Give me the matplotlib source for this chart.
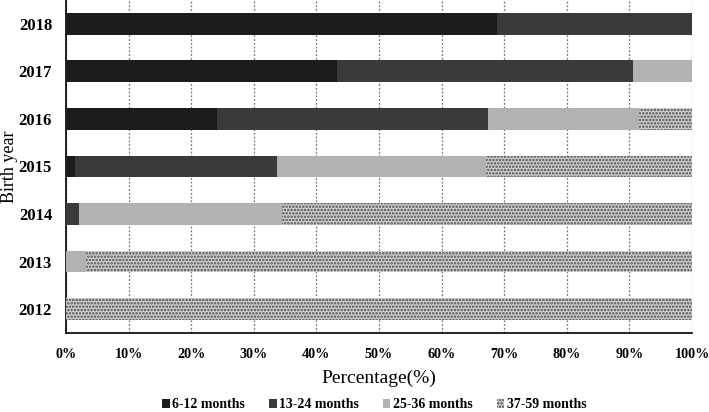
import matplotlib
matplotlib.use("Agg")
import matplotlib.pyplot as plt
from matplotlib.patches import Patch
import numpy as np

plt.rcParams['font.family'] = ['Liberation Serif', 'DejaVu Serif']
plt.rcParams['hatch.linewidth'] = 1.2

years = ['2012', '2013', '2014', '2015', '2016', '2017', '2018']
series_names = ['6-12 months', '13-24 months', '25-36 months', '37-59 months']
m6_12 = [0.0, 0.0, 0.0, 1.5, 24.1, 43.3, 68.8]
m13_24 = [0.0, 0.0, 2.1, 32.2, 43.3, 47.3, 31.2]
m25_36 = [0.0, 3.2, 32.4, 33.4, 24.1, 9.4, 0.0]
m37_59 = [100.0, 96.8, 65.5, 32.9, 8.5, 0.0, 0.0]
xticks = [0, 10, 20, 30, 40, 50, 60, 70, 80, 90, 100]

fig = plt.figure(figsize=(7.09, 4.12), dpi=100)
ax = fig.add_axes([0.0931, 0.192, 0.883, 0.808])

y = np.arange(len(years))
h = 0.46
left = np.zeros(len(years))
colors = ['#1c1c1c', '#3a3a3a', '#b2b2b2']
for vals, c in zip([m6_12, m13_24, m25_36], colors):
    ax.barh(y, vals, left=left, height=h, color=c, edgecolor='none', zorder=3)
    left += np.array(vals)
ax.barh(y, m37_59, left=left, height=h, color='#d0d0d0', edgecolor='#4a4a4a',
        hatch='.....', linewidth=0, zorder=3)

ax.set_xlim(0, 100)
ax.set_ylim(-0.5, 6.5)
ax.set_yticks(y)
ax.set_yticklabels(years, fontsize=12, fontweight='bold')
ax.set_xticks(xticks)
ax.set_xticklabels([f'{t}%' for t in xticks], fontsize=10.2, fontweight='bold')
ax.tick_params(axis='y', length=0, pad=10)
ax.tick_params(axis='x', length=0, pad=11)
ax.grid(axis='x', linestyle=(0, (1.5, 1.5)), color='#777777', linewidth=0.9, zorder=0)
for s in ['top', 'right']:
    ax.spines[s].set_visible(False)
ax.spines['left'].set_linewidth(1.2)
ax.spines['bottom'].set_linewidth(1.2)
ax.set_xlabel('Percentage(%)', fontsize=14, labelpad=6)
ax.set_ylabel('Birth year', fontsize=13)
ax.yaxis.set_label_coords(-0.076, 0.5)

handles = [Patch(facecolor=colors[0]), Patch(facecolor=colors[1]), Patch(facecolor=colors[2]),
           Patch(facecolor='#d0d0d0', edgecolor='#4a4a4a', hatch='.....', linewidth=0)]
fig.legend(handles, series_names, loc='center', bbox_to_anchor=(0.528, 0.017), ncol=4,
           frameon=False, handlelength=0.55, handleheight=0.55,
           handletextpad=0.2, columnspacing=1.7, prop={'weight': 'bold', 'size': 10})

fig.savefig('out.png', dpi=100)
